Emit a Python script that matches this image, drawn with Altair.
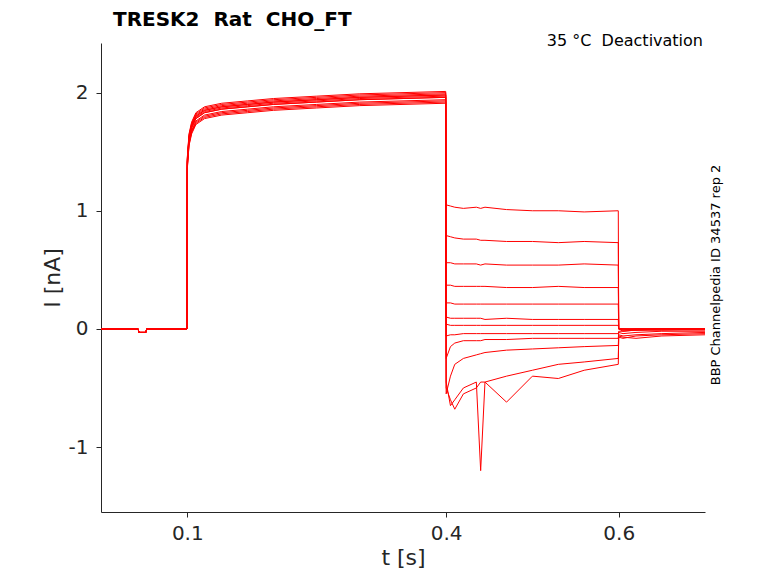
import altair as alt
import pandas as pd

t = [0, 0.043, 0.044, 0.052, 0.053, 0.0995, 0.1, 0.102, 0.105, 0.11, 0.12, 0.14, 0.17, 0.2, 0.25, 0.3, 0.35, 0.3995,
     0.4, 0.405, 0.41, 0.42, 0.435, 0.44, 0.445, 0.47, 0.5, 0.53, 0.56, 0.5995,
     0.6, 0.605, 0.62, 0.65, 0.7]

pre = [0, 0, -0.03, -0.03, 0, 0, 1.4, 1.6, 1.7, 1.78, 1.83, 1.86, 1.88, 1.9, 1.92, 1.94, 1.95, 1.96]
pre_shift = [0.05, 0.02, -0.03, 0.0, 0.03, -0.05, 0.01, -0.02, 0.04, -0.04, 0.0, 0.02]

test = [
    [1.05, 1.04, 1.03, 1.02, 1.03, 1.02, 1.03, 1.01, 1.0, 1.0, 0.99, 1.0],
    [0.79, 0.78, 0.77, 0.76, 0.76, 0.75, 0.75, 0.74, 0.74, 0.73, 0.74, 0.73],
    [0.56, 0.56, 0.55, 0.55, 0.55, 0.54, 0.55, 0.54, 0.54, 0.54, 0.55, 0.54],
    [0.37, 0.37, 0.36, 0.36, 0.36, 0.36, 0.36, 0.35, 0.35, 0.36, 0.35, 0.35],
    [0.22, 0.22, 0.21, 0.21, 0.21, 0.21, 0.21, 0.21, 0.21, 0.21, 0.21, 0.21],
    [0.10, 0.09, 0.09, 0.09, 0.09, 0.09, 0.08, 0.09, 0.08, 0.08, 0.08, 0.08],
    [0.04, 0.03, 0.03, 0.03, 0.03, 0.03, 0.03, 0.03, 0.03, 0.03, 0.03, 0.03],
    [-0.06, -0.05, -0.05, -0.04, -0.04, -0.04, -0.04, -0.04, -0.04, -0.04, -0.04, -0.04],
    [-0.25, -0.15, -0.12, -0.1, -0.1, -0.1, -0.09, -0.09, -0.08, -0.08, -0.08, -0.08],
    [-0.55, -0.4, -0.3, -0.25, -0.22, -0.21, -0.2, -0.18, -0.17, -0.16, -0.15, -0.14],
    [-0.5, -0.6, -0.68, -0.55, -0.5, -0.45, -0.45, -0.62, -0.4, -0.42, -0.35, -0.3],
    [-0.45, -0.65, -0.6, -0.5, -0.45, -1.2, -0.45, -0.4, -0.35, -0.3, -0.28, -0.25],
]

post = [
    [0.0, -0.02, -0.01, 0.0, 0.0],
    [0.0, -0.01, -0.01, 0.0, 0.0],
    [0.0, -0.01, 0.0, 0.0, 0.0],
    [0.0, 0.0, 0.0, 0.0, 0.0],
    [0.0, 0.0, 0.0, 0.0, 0.0],
    [0.0, 0.0, 0.0, 0.0, 0.0],
    [0.0, 0.0, -0.01, -0.01, 0.0],
    [-0.02, -0.02, -0.01, -0.01, -0.01],
    [-0.03, -0.04, -0.03, -0.02, -0.02],
    [-0.05, -0.06, -0.05, -0.04, -0.03],
    [-0.07, -0.08, -0.06, -0.05, -0.04],
    [-0.06, -0.07, -0.08, -0.06, -0.05],
]

rows = []
for i in range(len(test)):
    vals = [v + (pre_shift[i] if k >= 6 else 0) for k, v in enumerate(pre)] + test[i] + post[i]
    for k, (tt, v) in enumerate(zip(t, vals)):
        rows.append({"t": tt, "I": v, "sweep": i, "order": k})
df = pd.DataFrame(rows)

font = "DejaVu Sans"
ax = dict(grid=False, labelFontSize=20, titleFontSize=22, titleFontWeight="normal",
          labelFont=font, titleFont=font, domainColor="#262626",
          tickColor="#262626", labelColor="#262626", titleColor="#262626")
lines = alt.Chart(df).mark_line(color="#ff0000", strokeWidth=1, clip=True).encode(
    x=alt.X("t:Q", scale=alt.Scale(domain=[0, 0.7], nice=False, zero=False),
            axis=alt.Axis(values=[0.1, 0.4, 0.6], title="t [s]", format=".1f",
                          labelPadding=6, titlePadding=4, **ax)),
    y=alt.Y("I:Q", scale=alt.Scale(domain=[-1.55, 2.42], nice=False, zero=False),
            axis=alt.Axis(values=[-1, 0, 1, 2], title="I [nA]", labelPadding=8,
                          labelExpr="replace(format(datum.value, 'd'), '\u2212', '-')", **ax)),
    detail="sweep:N",
    order="order:Q",
)

note = alt.Chart(pd.DataFrame({"s": ["35 °C\u00a0\u00a0Deactivation"]})).mark_text(
    align="right", baseline="middle", fontSize=16, font=font, color="black"
).encode(text="s:N", x=alt.value(602), y=alt.value(-2))

side = alt.Chart(pd.DataFrame({"s": ["BBP Channelpedia ID 34537 rep 2"]})).mark_text(
    align="center", baseline="middle", fontSize=13, font=font, color="black", angle=270
).encode(text="s:N", x=alt.value(615), y=alt.value(232))

title = alt.Chart(pd.DataFrame({"s": ["TRESK2\u00a0\u00a0Rat\u00a0\u00a0CHO_FT"]})).mark_text(
    align="left", baseline="middle", fontSize=20, font=font, fontWeight="bold", color="black"
).encode(text="s:N", x=alt.value(12), y=alt.value(-23))

chart = alt.layer(lines, note, side, title).properties(
    width=604, height=469,
    autosize=alt.AutoSizeParams(type="none"),
    padding={"left": 93, "top": 35, "right": 65, "bottom": 63},
).configure_view(stroke=None)

chart.save("out.html", embed_options={"renderer": "svg", "actions": False})
